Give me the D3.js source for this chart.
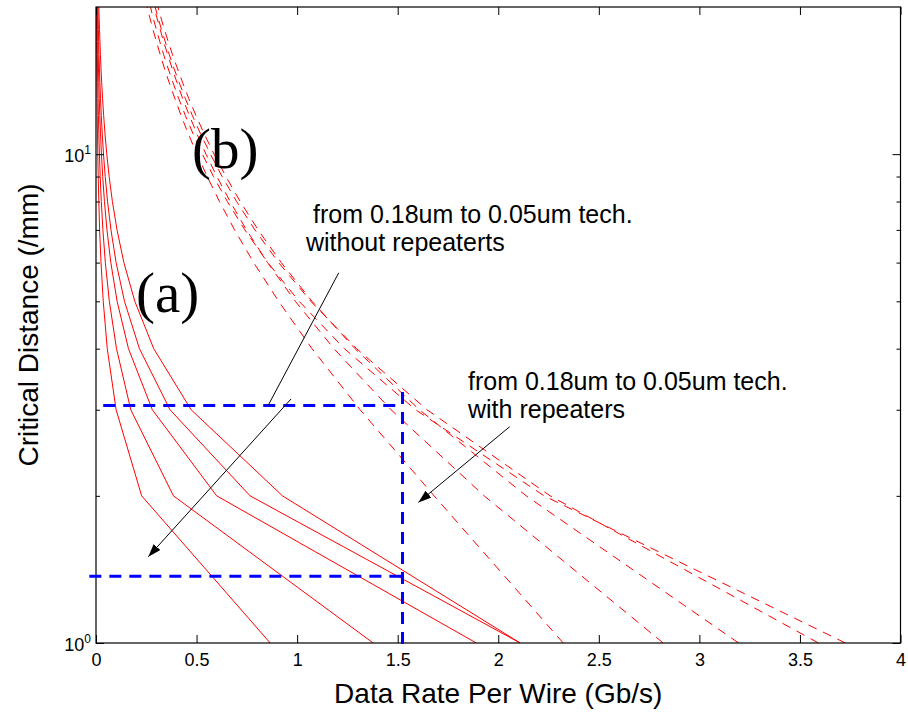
<!DOCTYPE html>
<html>
<head>
<meta charset="utf-8">
<script src="https://cdn.jsdelivr.net/npm/d3@7"></script>
<style>
  body { margin: 0; background: #fff; }
  text { font-family: Arial, "Liberation Sans", Helvetica, sans-serif; }
  text.serif { font-family: "Liberation Serif", "Times New Roman", Times, serif; }
</style>
</head>
<body>
<svg id="chart" width="908" height="714"></svg>
<script>
// Critical wire length (mm) sampled at integer values
const distances = [1, 2, 3, 4, 5, 6, 7, 8, 9, 10, 11, 12, 13, 14, 15, 16, 17, 18, 19, 20];

// (a) data rate per wire (Gb/s) without repeaters, one series per technology node
const noRep1 = [0.866, 0.227, 0.100, 0.056, 0.036, 0.025, 0.018, 0.0140, 0.0110, 0.0089, 0.0074, 0.0062, 0.0053, 0.0045, 0.0039, 0.0034, 0.0030, 0.0027, 0.0024, 0.0022];
const noRep2 = [1.378, 0.385, 0.173, 0.102, 0.0663, 0.0464, 0.0343, 0.0264, 0.0209, 0.0170, 0.0141, 0.0119, 0.0101, 0.0087, 0.0076, 0.0067, 0.0060, 0.0053, 0.0048, 0.0043];
const noRep3 = [1.891, 0.600, 0.280, 0.1615, 0.105, 0.0737, 0.0545, 0.0420, 0.0333, 0.0271, 0.0225, 0.0189, 0.0162, 0.0140, 0.0122, 0.0107, 0.0095, 0.0085, 0.0076, 0.0069];
const noRep4 = [2.109, 0.766, 0.368, 0.216, 0.1416, 0.100, 0.0744, 0.0575, 0.0458, 0.0373, 0.0310, 0.0262, 0.0224, 0.0194, 0.0169, 0.0149, 0.0132, 0.0118, 0.0106, 0.0096];
const noRep5 = [2.109, 0.927, 0.473, 0.287, 0.193, 0.1387, 0.1045, 0.0815, 0.0654, 0.0536, 0.0448, 0.0380, 0.0326, 0.0283, 0.0248, 0.0219, 0.0195, 0.0174, 0.0157, 0.0142];

// (b) data rate per wire (Gb/s) with repeaters
const rep1 = [2.323, 1.681, 1.313, 1.074, 0.908, 0.784, 0.689, 0.614, 0.553, 0.502, 0.459, 0.423, 0.392, 0.364, 0.340, 0.319, 0.300, 0.283, 0.268, 0.254];
const rep2 = [2.820, 1.930, 1.467, 1.183, 0.991, 0.853, 0.748, 0.667, 0.601, 0.547, 0.502, 0.464, 0.431, 0.403, 0.378, 0.356, 0.336, 0.319, 0.303, 0.289];
const rep3 = [3.195, 2.139, 1.608, 1.288, 1.074, 0.921, 0.806, 0.717, 0.646, 0.587, 0.538, 0.497, 0.461, 0.431, 0.404, 0.380, 0.359, 0.340, 0.323, 0.308];
const rep4 = [3.592, 2.258, 1.646, 1.296, 1.068, 0.908, 0.790, 0.699, 0.627, 0.569, 0.520, 0.479, 0.444, 0.414, 0.387, 0.364, 0.344, 0.325, 0.309, 0.294];
const rep5 = [3.726, 2.228, 1.589, 1.235, 1.010, 0.854, 0.740, 0.653, 0.584, 0.529, 0.483, 0.444, 0.411, 0.383, 0.358, 0.336, 0.317, 0.300, 0.284, 0.271];

const withoutRepeaters = [noRep1, noRep2, noRep3, noRep4, noRep5];
const withRepeaters = [rep1, rep2, rep3, rep4, rep5];

// Reference guides: target rate and the two distances it gives
const guideRate = 1.524;
const guideDistHigh = 3.061;
const guideDistLow = 1.369;

// Axis ticks
const xTicks = [0, 0.5, 1, 1.5, 2, 2.5, 3, 3.5, 4];
const yMajor = [1, 10];
const yMinor = [2, 3, 4, 5, 6, 7, 8, 9];

const svg = d3.select("#chart");
const plotLeft = 96, plotRight = 900.5, plotTop = 7, plotBottom = 643;

const x = d3.scaleLinear().domain([0, 4]).range([plotLeft, plotRight]);
const y = d3.scaleLog().domain([1, 20]).range([plotBottom, plotTop]);

const defs = svg.append("defs");
defs.append("clipPath").attr("id", "plotClip")
  .append("rect").attr("x", plotLeft).attr("y", plotTop)
  .attr("width", plotRight - plotLeft).attr("height", plotBottom - plotTop);

defs.append("marker")
  .attr("id", "arrowHead").attr("markerUnits", "userSpaceOnUse")
  .attr("markerWidth", 14).attr("markerHeight", 10)
  .attr("refX", 13).attr("refY", 4.5).attr("orient", "auto")
  .append("path").attr("d", "M0,0 L13,4.5 L0,9 Z").attr("fill", "#000");

const line = d3.line()
  .x(d => x(d[0]))
  .y(d => y(d[1]));

const curves = svg.append("g").attr("clip-path", "url(#plotClip)");

withoutRepeaters.forEach(rates => {
  curves.append("path")
    .datum(rates.map((r, i) => [r, distances[i]]))
    .attr("d", line)
    .attr("fill", "none")
    .attr("stroke", "#ff0000")
    .attr("stroke-width", 1);
});

withRepeaters.forEach(rates => {
  curves.append("path")
    .datum(rates.map((r, i) => [r, distances[i]]))
    .attr("d", line)
    .attr("fill", "none")
    .attr("stroke", "#ff0000")
    .attr("stroke-width", 1)
    .attr("stroke-dasharray", "9,7");
});

// Axes box with inward ticks
const axisColor = "#000";
function styleAxis(g) {
  g.select(".domain").remove();
  g.selectAll("line").attr("stroke", axisColor).attr("stroke-width", 1);
}

svg.append("g").attr("transform", `translate(0,${plotBottom})`)
  .call(d3.axisBottom(x).tickValues(xTicks).tickSize(-8).tickPadding(10)
    .tickFormat(d3.format("~g")))
  .call(styleAxis)
  .call(g => g.selectAll("text").attr("font-size", 18).attr("fill", "#000"));

svg.append("g").attr("transform", `translate(0,${plotTop})`)
  .call(d3.axisTop(x).tickValues(xTicks).tickSize(-8).tickFormat(""))
  .call(styleAxis);

svg.append("g").attr("transform", `translate(${plotLeft},0)`)
  .call(d3.axisLeft(y).tickValues(yMinor).tickSize(-4).tickFormat(""))
  .call(styleAxis);
svg.append("g").attr("transform", `translate(${plotRight},0)`)
  .call(d3.axisRight(y).tickValues(yMinor).tickSize(-4).tickFormat(""))
  .call(styleAxis);
svg.append("g").attr("transform", `translate(${plotRight},0)`)
  .call(d3.axisRight(y).tickValues(yMajor).tickSize(-8).tickFormat(""))
  .call(styleAxis);

const yMajorAxis = svg.append("g").attr("transform", `translate(${plotLeft},0)`)
  .call(d3.axisLeft(y).tickValues(yMajor).tickSize(-8).tickFormat(""))
  .call(styleAxis);
yMajorAxis.selectAll(".tick").each(function(d) {
  const t = d3.select(this).append("text")
    .attr("x", -5).attr("y", 7.5)
    .attr("text-anchor", "end").attr("fill", "#000").attr("font-size", 18);
  t.append("tspan").text("10");
  t.append("tspan").attr("dy", -8.5).attr("font-size", 12).text(Math.round(Math.log10(d)));
});

svg.append("rect")
  .attr("x", plotLeft).attr("y", plotTop)
  .attr("width", plotRight - plotLeft).attr("height", plotBottom - plotTop)
  .attr("fill", "none").attr("stroke", axisColor).attr("stroke-width", 1.2);

// Guide lines
const guides = svg.append("g")
  .attr("stroke", "#0000ff").attr("stroke-width", 3)
  .attr("stroke-dasharray", "12,8").attr("fill", "none");
guides.append("line")
  .attr("x1", x(0.036)).attr("y1", y(guideDistHigh))
  .attr("x2", x(guideRate)).attr("y2", y(guideDistHigh));
guides.append("line")
  .attr("x1", x(-0.033)).attr("y1", y(guideDistLow))
  .attr("x2", x(guideRate)).attr("y2", y(guideDistLow));
guides.append("line")
  .attr("x1", x(guideRate)).attr("y1", y(3.262))
  .attr("x2", x(guideRate)).attr("y2", y(0.981));

// Annotation leaders
const ann = svg.append("g").attr("stroke", "#000").attr("stroke-width", 1);
ann.append("line")
  .attr("x1", x(1.207)).attr("y1", y(5.72))
  .attr("x2", x(0.857)).attr("y2", y(3.068));
ann.append("line")
  .attr("x1", x(0.970)).attr("y1", y(3.157))
  .attr("x2", x(0.260)).attr("y2", y(1.501))
  .attr("marker-end", "url(#arrowHead)");
ann.append("line")
  .attr("x1", x(2.057)).attr("y1", y(2.770))
  .attr("x2", x(1.603)).attr("y2", y(1.939))
  .attr("marker-end", "url(#arrowHead)");

// Text labels
const txt = svg.append("g").attr("fill", "#000");
txt.append("text").attr("x", 313).attr("y", 223).attr("font-size", 25)
  .text("from 0.18um to 0.05um tech.");
txt.append("text").attr("x", 306).attr("y", 251).attr("font-size", 25)
  .text("without repeaterts");
txt.append("text").attr("x", 468).attr("y", 390).attr("font-size", 25)
  .text("from 0.18um to 0.05um tech.");
txt.append("text").attr("x", 468).attr("y", 418).attr("font-size", 25)
  .text("with repeaters");

txt.append("text").attr("class", "serif").attr("x", 136).attr("y", 312)
  .attr("font-size", 57).text("(a)");
txt.append("text").attr("class", "serif").attr("x", 192).attr("y", 168)
  .attr("font-size", 57).text("(b)");

txt.append("text").attr("x", (plotLeft + plotRight) / 2).attr("y", 703)
  .attr("text-anchor", "middle").attr("font-size", 28)
  .text("Data Rate Per Wire (Gb/s)");
txt.append("text")
  .attr("transform", `translate(38,${(plotTop + plotBottom) / 2}) rotate(-90)`)
  .attr("text-anchor", "middle").attr("font-size", 28)
  .text("Critical Distance (/mm)");
</script>
</body>
</html>
